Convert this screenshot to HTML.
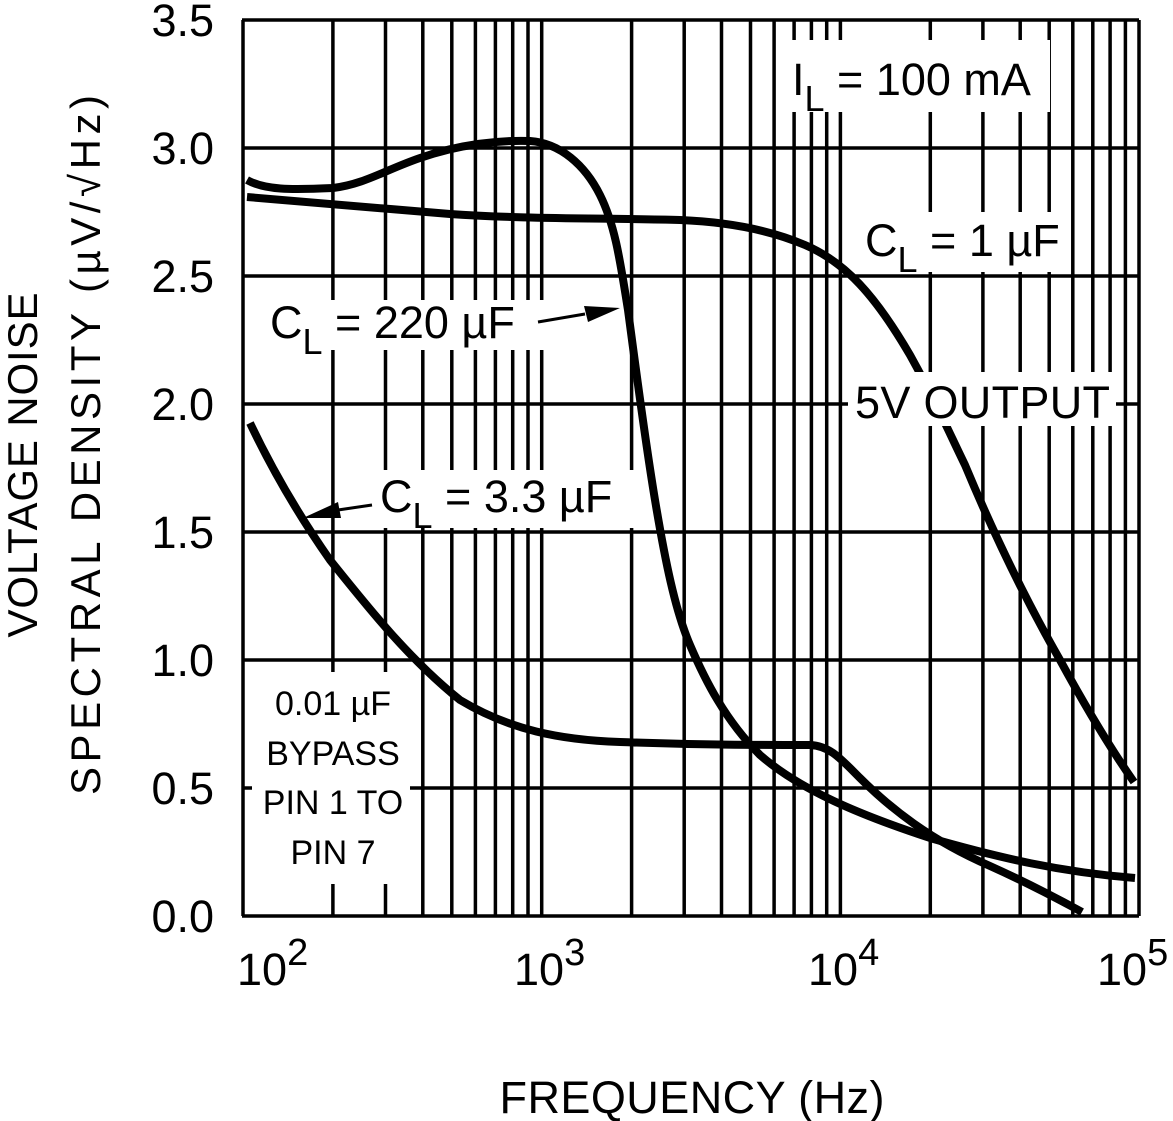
<!DOCTYPE html>
<html><head><meta charset="utf-8"><style>
html,body{margin:0;padding:0;background:#fff;}
svg{display:block;}
text{font-family:"Liberation Sans",sans-serif;fill:#000;}
</style></head><body>
<svg width="1173" height="1121" viewBox="0 0 1173 1121" xmlns="http://www.w3.org/2000/svg">
<g stroke="#000" stroke-width="3.5" fill="none">
<line x1="242" y1="20" x2="1139" y2="20"/>
<line x1="242" y1="148" x2="1139" y2="148"/>
<line x1="242" y1="276" x2="1139" y2="276"/>
<line x1="242" y1="404" x2="1139" y2="404"/>
<line x1="242" y1="532" x2="1139" y2="532"/>
<line x1="242" y1="660" x2="1139" y2="660"/>
<line x1="242" y1="788" x2="1139" y2="788"/>
<line x1="242" y1="916" x2="1139" y2="916"/>
<line x1="243" y1="20" x2="243" y2="916"/>
<line x1="332.9" y1="20" x2="332.9" y2="916"/><line x1="385.5" y1="20" x2="385.5" y2="916"/><line x1="422.8" y1="20" x2="422.8" y2="916"/><line x1="451.8" y1="20" x2="451.8" y2="916"/><line x1="475.4" y1="20" x2="475.4" y2="916"/><line x1="495.4" y1="20" x2="495.4" y2="916"/><line x1="512.7" y1="20" x2="512.7" y2="916"/><line x1="528.0" y1="20" x2="528.0" y2="916"/>
<line x1="541.7" y1="20" x2="541.7" y2="916"/>
<line x1="631.6" y1="20" x2="631.6" y2="916"/><line x1="684.2" y1="20" x2="684.2" y2="916"/><line x1="721.5" y1="20" x2="721.5" y2="916"/><line x1="750.5" y1="20" x2="750.5" y2="916"/><line x1="774.1" y1="20" x2="774.1" y2="916"/><line x1="794.1" y1="20" x2="794.1" y2="916"/><line x1="811.4" y1="20" x2="811.4" y2="916"/><line x1="826.7" y1="20" x2="826.7" y2="916"/>
<line x1="840.4" y1="20" x2="840.4" y2="916"/>
<line x1="930.3" y1="20" x2="930.3" y2="916"/><line x1="982.9" y1="20" x2="982.9" y2="916"/><line x1="1020.2" y1="20" x2="1020.2" y2="916"/><line x1="1049.2" y1="20" x2="1049.2" y2="916"/><line x1="1072.8" y1="20" x2="1072.8" y2="916"/><line x1="1092.8" y1="20" x2="1092.8" y2="916"/><line x1="1110.1" y1="20" x2="1110.1" y2="916"/><line x1="1125.4" y1="20" x2="1125.4" y2="916"/>
<line x1="1139" y1="20" x2="1139" y2="916"/>
</g>
<g fill="#fff">
<rect x="782" y="40" width="268" height="72"/>
<rect x="855" y="212" width="205" height="60"/>
<rect x="262" y="300" width="282" height="50"/>
<rect x="372" y="470" width="264" height="58"/>
<rect x="252" y="672" width="158" height="212"/>
</g>
<g stroke="#000" stroke-width="8" fill="none" stroke-linejoin="round" stroke-linecap="butt">
<path d="M247,180 C265,190 290,190 333,188 C365,184 385,170 420,158 C460,144 500,140 530,141 C560,143 585,165 600,195 C615,225 620,260 628,310 C636,370 645,440 655,500 C665,560 675,610 690,645 C705,680 725,720 760,755 C800,790 860,815 930,838 C1000,858 1060,872 1135,878"/>
<path d="M247,197 C300,202 380,208 450,214 C520,219 600,218 680,220 C730,222 770,230 805,245 C845,262 875,295 910,355 C935,400 948,430 965,465 C990,525 1020,590 1060,660 C1090,715 1115,755 1134,782"/>
<path d="M250,423 C270,465 295,510 330,560 C370,610 410,660 460,700 C510,730 560,740 620,742 C700,745 760,745 810,745 C830,746 840,758 860,778 C890,808 930,840 990,866 C1030,884 1060,900 1082,912"/>
</g>
<rect x="848" y="372" width="268" height="54" fill="#fff"/>
<g stroke="#000" stroke-width="3" fill="#000">
<line x1="538" y1="322" x2="585" y2="314"/>
<polygon points="620,308 584,306 588,322" stroke="none"/>
<line x1="372" y1="505" x2="338" y2="510"/>
<polygon points="303,518 338,502 341,518" stroke="none"/>
</g>
<g font-size="45" text-anchor="end">
<text x="214" y="36">3.5</text>
<text x="214" y="164">3.0</text>
<text x="214" y="292">2.5</text>
<text x="214" y="420">2.0</text>
<text x="214" y="548">1.5</text>
<text x="214" y="676">1.0</text>
<text x="214" y="804">0.5</text>
<text x="214" y="932">0.0</text>
</g>
<g font-size="45">
<text x="237" y="985">10<tspan font-size="38" dy="-20">2</tspan></text>
<text x="514" y="985">10<tspan font-size="38" dy="-20">3</tspan></text>
<text x="808" y="985">10<tspan font-size="38" dy="-20">4</tspan></text>
<text x="1097" y="985">10<tspan font-size="38" dy="-20">5</tspan></text>
</g>
<g font-size="45">
<text x="792" y="95">I<tspan font-size="36" dy="16">L</tspan><tspan dy="-16"> = 100 mA</tspan></text>
<text x="865" y="256">C<tspan font-size="36" dy="16">L</tspan><tspan dy="-16"> = 1 µF</tspan></text>
<text x="855" y="418" textLength="255">5V OUTPUT</text>
<text x="270" y="338">C<tspan font-size="36" dy="16">L</tspan><tspan dy="-16"> = 220 µF</tspan></text>
<text x="380" y="512">C<tspan font-size="36" dy="16">L</tspan><tspan dy="-16"> = 3.3 µF</tspan></text>
</g>
<g font-size="34" text-anchor="middle">
<text x="333" y="715">0.01 µF</text>
<text x="333" y="765">BYPASS</text>
<text x="333" y="814">PIN 1 TO</text>
<text x="333" y="864">PIN 7</text>
</g>
<text x="692" y="1113" font-size="45" text-anchor="middle" textLength="385">FREQUENCY (Hz)</text>
<text transform="translate(37,465) rotate(-90)" font-size="42" text-anchor="middle" textLength="345">VOLTAGE NOISE</text>
<text transform="translate(100,445) rotate(-90)" font-size="42" text-anchor="middle" textLength="700">SPECTRAL DENSITY (µV/√Hz)</text>
</svg>
</body></html>
